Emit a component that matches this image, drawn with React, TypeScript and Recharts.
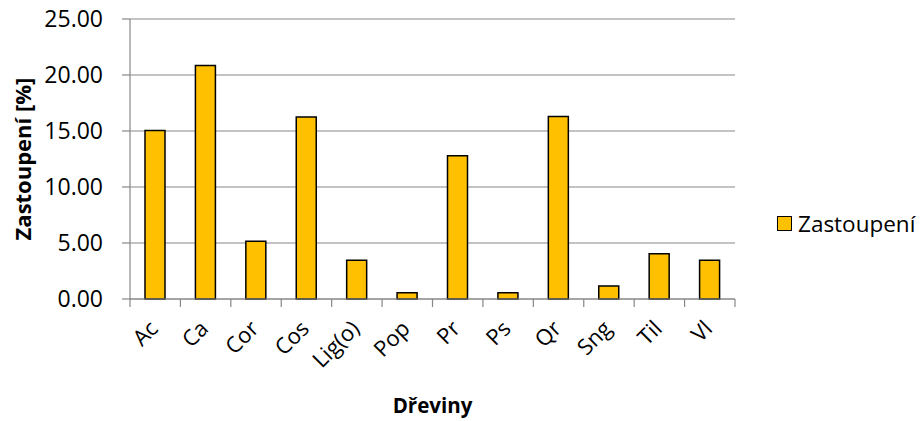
import React from 'react';
import { BarChart, Bar, XAxis, YAxis, CartesianGrid, Legend } from 'recharts';

const categories = ['Ac', 'Ca', 'Cor', 'Cos', 'Lig(o)', 'Pop', 'Pr', 'Ps', 'Qr', 'Sng', 'Til', 'Vl'];
const zastoupeni = [15.05, 20.85, 5.15, 16.25, 3.45, 0.55, 12.8, 0.55, 16.3, 1.15, 4.05, 3.45];
const yTicks = [0, 5, 10, 15, 20, 25];
const seriesName = 'Zastoupení';
const xTitle = 'Dřeviny';
const yTitle = 'Zastoupení [%]';

const data = categories.map((c, i) => ({ name: c, value: zastoupeni[i] }));

const FONT = '"Open Sans", sans-serif';
const GRAY = '#878787';
const BAR = '#FFC000';

const XTick = (props: any) => {
  const { x, y, payload, index, visibleTicksCount } = props;
  const half = payload && payload.offset ? payload.offset : 25.2;
  const ax = x + 4;
  const ay = y + 27;
  const last = index === (visibleTicksCount ?? categories.length) - 1;
  return (
    <g>
      <line x1={x - half} x2={x - half} y1={y - 4} y2={y + 4} stroke={GRAY} strokeWidth={1.2} />
      {last && <line x1={x + half} x2={x + half} y1={y - 4} y2={y + 4} stroke={GRAY} strokeWidth={1.2} />}
      <text
        x={ax}
        y={ay}
        transform={`rotate(-45, ${ax}, ${ay})`}
        textAnchor="end"
        fontSize={22}
        fontFamily={FONT}
        fill="#000"
      >
        {payload.value}
      </text>
    </g>
  );
};

const YTick = (props: any) => {
  const { x, y, payload } = props;
  return (
    <text x={103} y={y} dy={8} textAnchor="end" fontSize={23} fontFamily={FONT} fill="#000">
      {Number(payload.value).toFixed(2)}
    </text>
  );
};

const LegendContent = () => (
  <div style={{ display: 'flex', alignItems: 'center', fontFamily: FONT, fontSize: 22.5, color: '#000', whiteSpace: 'nowrap' }}>
    <span style={{ display: 'inline-block', width: 13, height: 13, background: BAR, border: '1.5px solid #000', marginRight: 6 }} />
    <span>{seriesName}</span>
  </div>
);

export default function App() {
  return (
    <div style={{ position: 'absolute', left: 0, top: 0, background: '#fff' }}>
      <BarChart
        width={924}
        height={421}
        data={data}
        margin={{ top: 19, right: 189, bottom: 0, left: 0 }}
        barCategoryGap={0}
        style={{ fontFamily: FONT }}
      >
        <CartesianGrid vertical={false} stroke={GRAY} strokeWidth={1.2} />
        <XAxis
          dataKey="name"
          height={122}
          interval={0}
          axisLine={{ stroke: GRAY, strokeWidth: 1.2 }}
          tickLine={false}
          tickSize={4}
          tickMargin={0}
          tick={XTick}
          label={(p: any) => {
            const vb = p.viewBox;
            return (
              <text x={vb.x + vb.width / 2} y={vb.y + 114} textAnchor="middle" fontSize={20.5} fontWeight="bold" fontFamily={FONT} fill="#000">
                {xTitle}
              </text>
            );
          }}
        />
        <YAxis
          width={130}
          domain={[0, 25]}
          ticks={yTicks}
          interval={0}
          axisLine={{ stroke: GRAY, strokeWidth: 1.2 }}
          tickLine={{ stroke: GRAY, strokeWidth: 1.2 }}
          tickSize={8}
          tickMargin={19}
          tick={YTick}
          label={(p: any) => {
            const vb = p.viewBox;
            const cx = 31;
            const cy = vb.y + vb.height / 2;
            return (
              <text x={cx} y={cy} transform={`rotate(-90, ${cx}, ${cy})`} textAnchor="middle" fontSize={22} fontWeight="bold" fontFamily={FONT} fill="#000">
                {yTitle}
              </text>
            );
          }}
        />
        <Bar
          dataKey="value"
          name={seriesName}
          fill={BAR}
          stroke="#000"
          strokeWidth={1.5}
          barSize={20}
          isAnimationActive={false}
        />
        <Legend
          layout="horizontal"
          align="center"
          verticalAlign="middle"
          wrapperStyle={{ left: 777, top: 208, width: 150 }}
          content={LegendContent}
        />
      </BarChart>
    </div>
  );
}
